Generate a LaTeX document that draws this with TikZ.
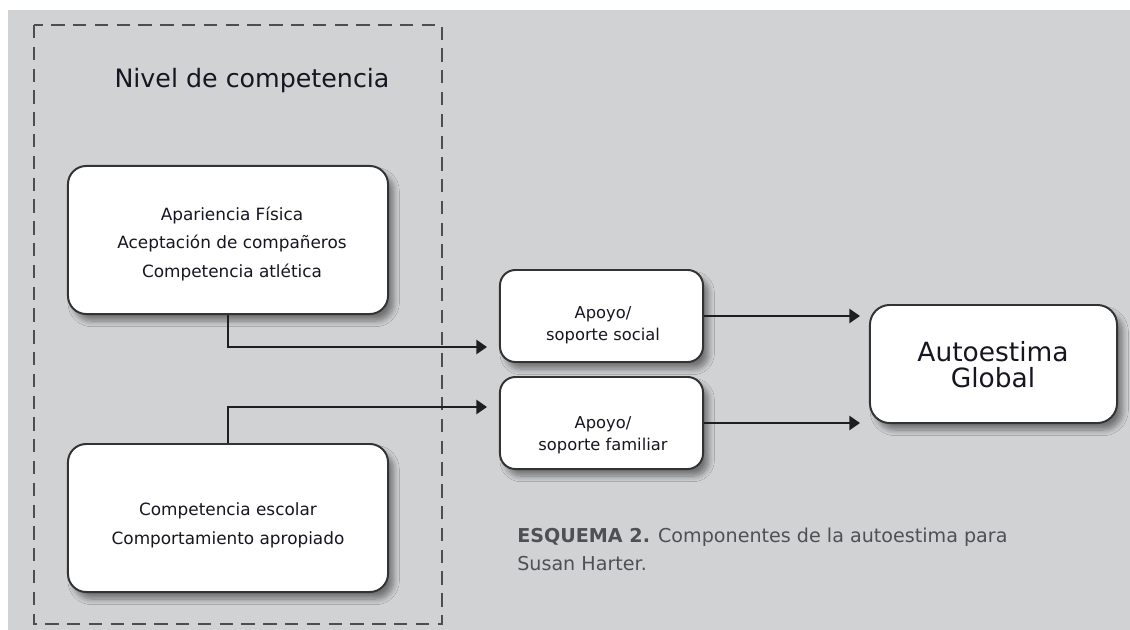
\documentclass[tikz,border=0pt]{standalone}
\usepackage{fontspec}
\setmainfont{DejaVu Sans}
\usetikzlibrary{arrows.meta,shadows.blur}
\definecolor{bggray}{RGB}{209,210,212}
\definecolor{dashgray}{RGB}{78,78,80}
\definecolor{captgray}{RGB}{80,80,84}
\definecolor{inkdark}{RGB}{22,22,34}
\tikzset{
  boxshadow/.style={blur shadow={shadow xshift=4pt,shadow yshift=-5pt,shadow blur radius=4pt,shadow blur steps=8,shadow opacity=45}},
  bigbox/.style={rectangle,draw=black!80,line width=1.4pt,fill=white,rounded corners=13pt,
    minimum width=8cm,minimum height=3.7cm,boxshadow},
  midbox/.style={bigbox,rounded corners=11pt,minimum width=5.075cm,minimum height=2.3cm},
  globalbox/.style={bigbox,rounded corners=14pt,minimum width=6.175cm,minimum height=2.95cm},
  boxtext/.style={align=center,text=inkdark,inner sep=0pt,font=\fontsize{12}{20.5}\selectfont},
  smalltext/.style={boxtext,font=\fontsize{11.6}{15.5}\selectfont},
  largetext/.style={boxtext,font=\fontsize{18.8}{18.5}\selectfont},
  conn/.style={line width=1.4pt,draw=black!88,-{Triangle[length=7.5pt,width=10pt]}}
}
\begin{document}
\begin{tikzpicture}[x=0.025cm,y=-0.025cm]
\useasboundingbox(0,0)rectangle(1130,630);
%background
\fill[white](0,0)rectangle(1130,630);
\fill[bggray](8,10)rectangle(1130,630);
%level of competence frame
\draw[dashgray,line width=1.7pt,dash pattern=on 9.5pt off 6pt](34,25)rectangle(442,624);
\node[anchor=base,text=inkdark,font=\fontsize{18}{22}\selectfont](leveltitle)at(252,88){Nivel de competencia};
%boxes
\node[bigbox](physbox)at(228,240){};
\node[bigbox](schoolbox)at(228,518){};
\node[midbox](socialbox)at(601.5,316){};
\node[midbox](familybox)at(601.5,423){};
\node[globalbox](globalbox)at(993.5,364){};
%box texts
\node[boxtext](phystext)at(232,244){Apariencia Física\\Aceptación de compañeros\\Competencia atlética};
\node[boxtext](schooltext)at(228,525){Competencia escolar\\Comportamiento apropiado};
\node[smalltext](socialtext)at(603,325){Apoyo/\\soporte social};
\node[smalltext](familytext)at(603,435){Apoyo/\\soporte familiar};
\node[largetext](globaltext)at(993,365){Autoestima\\Global};
%arrow ends
\coordinate(socialin)at(487,347);
\coordinate(familyin)at(487,407);
\coordinate(globalup)at(860,316);
\coordinate(globallow)at(860,423);
%arrows
\draw[conn](physbox.south)|-(socialin);
\draw[conn](schoolbox.north)|-(familyin);
\draw[conn](socialbox.east)--(globalup);
\draw[conn](familybox.east)--(globallow);
%caption
\node[anchor=north west,inner sep=0pt,align=left,text=captgray,font=\fontsize{13.6}{19.5}\selectfont](caption)at(517,528){{\bfseries ESQUEMA 2.} Componentes de la autoestima para\\Susan Harter.};
\end{tikzpicture}
\end{document}
